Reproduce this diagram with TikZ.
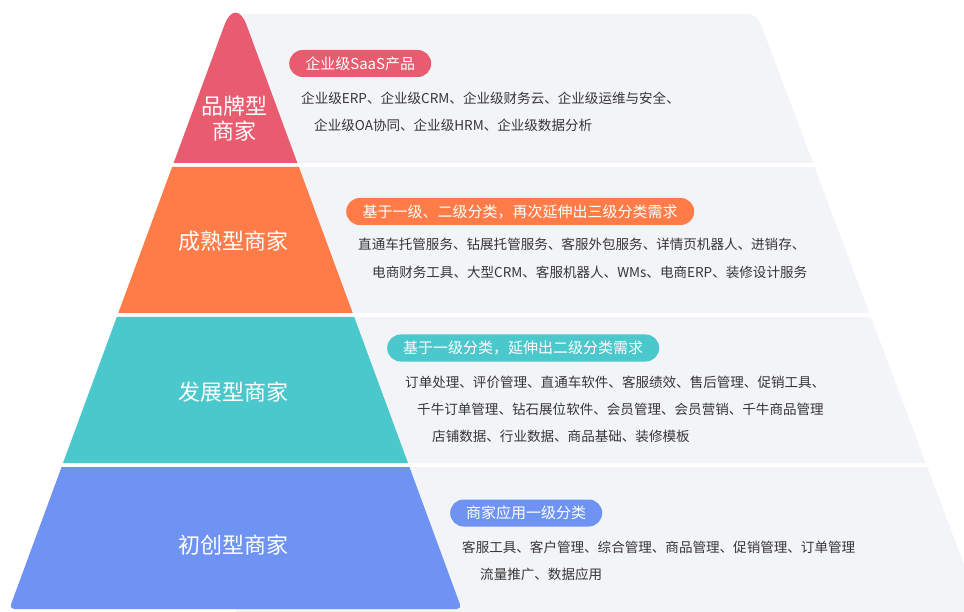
\documentclass[tikz,border=0pt]{standalone}
\usepackage{fontspec}
\setmainfont{Noto Sans CJK SC}
\usetikzlibrary{shapes.misc}
\definecolor{cpink}{HTML}{E95B6F}
\definecolor{corange}{HTML}{FF7B47}
\definecolor{cteal}{HTML}{4AC8CC}
\definecolor{cblue}{HTML}{6E93F2}
\definecolor{cgray}{HTML}{F3F4F8}
\definecolor{ctext}{HTML}{363636}
\begin{document}
\begin{tikzpicture}[x=1pt,y=-1pt,
  pill/.style={rounded rectangle, minimum height=27pt, inner xsep=0pt, inner ysep=0pt, text=white, font=\fontsize{15pt}{17pt}\selectfont, anchor=west},
  detail/.style={anchor=west, inner sep=0pt, text=ctext, font=\fontsize{13.55pt}{16pt}\selectfont},
  lvl/.style={text=white, font=\fontsize{22pt}{25pt}\selectfont, align=center, inner sep=0pt}]
\useasboundingbox (0,0) rectangle (964,612);
\begin{scope}
\clip (0,0) rectangle (964,612);
% gray panels
\begin{scope}
\clip (236,0) rectangle (964,163);
\fill[cgray, rounded corners=9pt] (200,200) -- (200,14) -- (757,14) -- (827.1,200) -- cycle;
\end{scope}
\fill[cgray] (236,167) -- (814.5,167) -- (869.4,313) -- (236,313) -- cycle;
\fill[cgray] (236,317) -- (870.9,317) -- (925.8,463) -- (236,463) -- cycle;
\fill[cgray] (236,467) -- (927.3,467) -- (992.4,640) -- (236,640) -- cycle;
% pyramid layers
\begin{scope}
\clip (0,0) rectangle (964,163);
\fill[cpink, rounded corners=32pt] (160,200) -- (235.5,-5) -- (311,200) -- cycle;
\end{scope}
\fill[corange] (172.1,167) -- (298.9,167) -- (352.7,313) -- (118.3,313) -- cycle;
\fill[cteal] (116.8,317) -- (354.2,317) -- (408.0,463) -- (63.0,463) -- cycle;
\begin{scope}
\clip (0,467) rectangle (964,612);
\fill[cblue, rounded corners=5pt] (67.1,452) -- (403.9,452) -- (461.7,609) -- (9.3,609) -- cycle;
\end{scope}
\end{scope}
% level labels
\node[lvl] (l1) at (234,119) {品牌型\\商家};
\node[lvl] (l2) at (233,241) {成熟型商家};
\node[lvl] (l3) at (233,392) {发展型商家};
\node[lvl] (l4) at (233,545) {初创型商家};
% pills
\node[pill, fill=cpink, minimum width=142pt] (p1) at (289,63.5) {企业级SaaS产品};
\node[pill, fill=corange, minimum width=348pt] (p2) at (346,211.5) {基于一级、二级分类，再次延伸出三级分类需求};
\node[pill, fill=cteal, minimum width=272pt] (p3) at (387,348) {基于一级分类，延伸出二级分类需求};
\node[pill, fill=cblue, minimum width=152pt] (p4) at (450,513) {商家应用一级分类};
% details
\node[detail] (d11) at (301,98) {企业级ERP、企业级CRM、企业级财务云、企业级运维与安全、};
\node[detail] (d12) at (314,125) {企业级OA协同、企业级HRM、企业级数据分析};
\node[detail] (d21) at (358,244) {直通车托管服务、钻展托管服务、客服外包服务、详情页机器人、进销存、};
\node[detail] (d22) at (372,272) {电商财务工具、大型CRM、客服机器人、WMs、电商ERP、装修设计服务};
\node[detail] (d31) at (405,382) {订单处理、评价管理、直通车软件、客服绩效、售后管理、促销工具、};
\node[detail] (d32) at (417,409) {千牛订单管理、钻石展位软件、会员管理、会员营销、千牛商品管理};
\node[detail] (d33) at (432,436) {店铺数据、行业数据、商品基础、装修模板};
\node[detail] (d41) at (462,547) {客服工具、客户管理、综合管理、商品管理、促销管理、订单管理};
\node[detail] (d42) at (480,574) {流量推广、数据应用};
\end{tikzpicture}
\end{document}
